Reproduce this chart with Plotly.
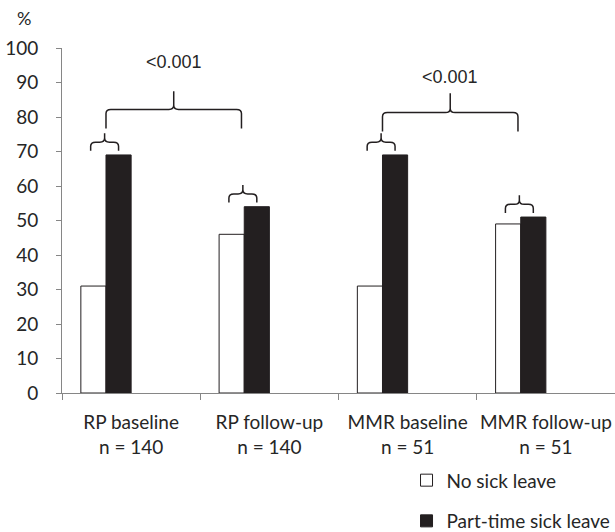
import plotly.graph_objects as go

# ---- data ----
categories = ["RP baseline", "RP follow-up", "MMR baseline", "MMR follow-up"]
n_labels = ["n = 140", "n = 140", "n = 51", "n = 51"]
no_sick_leave = [31, 46, 31, 49]
part_time_sick_leave = [69, 54, 69, 51]
p_values = ["<0.001", "<0.001"]
comparisons = [(0, 1), (2, 3)]  # category index pairs compared
y_ticks = list(range(0, 101, 10))

INK = "#231f20"
AXIS = "#868686"
TXT = "#262626"
FONT = "Lato"

bw = 1 / 5.5  # bar width in category units (Excel-like 150% gap, 4 slots)
xs = list(range(len(categories)))

fig = go.Figure()
fig.add_trace(go.Bar(
    x=xs, y=no_sick_leave, name="No sick leave", width=bw, offset=-2 * bw,
    marker=dict(color="white", line=dict(color=INK, width=1)),
    legendgroup="a"))
fig.add_trace(go.Bar(
    x=xs, y=part_time_sick_leave, name="Part-time sick leave", width=bw, offset=-bw,
    marker=dict(color=INK, line=dict(color=INK, width=1)),
    legendgroup="b"))


def brace(x0, x1, yb, yh, yt, rx=0.035, cy=1.2):
    xm = (x0 + x1) / 2
    return (f"M {x0},{yb} L {x0},{yh - cy} Q {x0},{yh} {x0 + rx},{yh} "
            f"L {xm - rx},{yh} Q {xm},{yh} {xm},{yh + cy} L {xm},{yt} "
            f"M {xm},{yh + cy} Q {xm},{yh} {xm + rx},{yh} "
            f"L {x1 - rx},{yh} Q {x1},{yh} {x1},{yh - cy} L {x1},{yb}")


shapes = []
# small braces over each pair of bars
for i in xs:
    top = max(no_sick_leave[i], part_time_sick_leave[i])
    xa = i - 1.5 * bw - 0.02
    xb = i - 0.5 * bw
    shapes.append(dict(type="path", xref="x", yref="y",
                       path=brace(xa, xb, top + 1.2, top + 3.7, top + 6.3),
                       line=dict(color=INK, width=1.5)))

# large braces between baseline and follow-up
large_offsets = [(7.7, 13.2, 18.5, 27.0), (6.8, 12.3, 17.9, 22.5)]
annotations = []
for (a, b), p, off in zip(comparisons, p_values, large_offsets):
    base = max(no_sick_leave[a], part_time_sick_leave[a])
    xa = a - bw
    xb = b - bw - 0.02
    shapes.append(dict(type="path", xref="x", yref="y",
                       path=brace(xa, xb, base + off[0], base + off[1], base + off[2]),
                       line=dict(color=INK, width=1.5)))
    annotations.append(dict(x=(xa + xb) / 2, y=base + off[3], xref="x", yref="y",
                            text=p, showarrow=False,
                            font=dict(family="Liberation Sans, Arial", size=18, color=TXT)))

annotations.append(dict(x=-0.068, y=1.087, xref="paper", yref="paper", text="%",
                        xanchor="center", yanchor="middle",
                        showarrow=False, font=dict(family=FONT, size=18, color=TXT)))

fig.update_layout(
    width=615, height=532,
    margin=dict(l=62, r=0, t=48, b=139, autoexpand=False),
    plot_bgcolor="white", paper_bgcolor="white",
    font=dict(family=FONT, size=19, color=TXT),
    shapes=shapes, annotations=annotations,
    legend=dict(x=0.623, y=-0.198, xanchor="left", yanchor="top",
                traceorder="grouped", tracegroupgap=13,
                font=dict(family=FONT, size=19, color=TXT),
                itemwidth=30, bgcolor="rgba(0,0,0,0)"),
    showlegend=True,
)
fig.update_xaxes(
    range=[-0.5, 3.5], tickvals=xs,
    ticktext=[f"{c}<br>{n}" for c, n in zip(categories, n_labels)],
    ticks="", showgrid=False, zeroline=False, automargin=False,
    showline=True, linecolor=AXIS, linewidth=1,
    minor=dict(tickvals=[-0.5, 0.5, 1.5, 2.5, 3.5], ticks="outside",
               ticklen=6, tickcolor=AXIS, tickwidth=1),
    ticklabelstandoff=12,
    tickfont=dict(family=FONT, size=19, color=TXT),
)
fig.update_yaxes(
    range=[0, 100], tickvals=y_ticks, ticks="outside", ticklen=5,
    tickcolor=AXIS, showgrid=False, zeroline=False, automargin=False,
    showline=True, linecolor=AXIS, linewidth=1,
    ticklabelstandoff=14,
    tickfont=dict(family=FONT, size=19, color=TXT),
)

fig.write_html("out.html", config={"displayModeBar": False},
               post_script="document.body.style.margin='0px';")
